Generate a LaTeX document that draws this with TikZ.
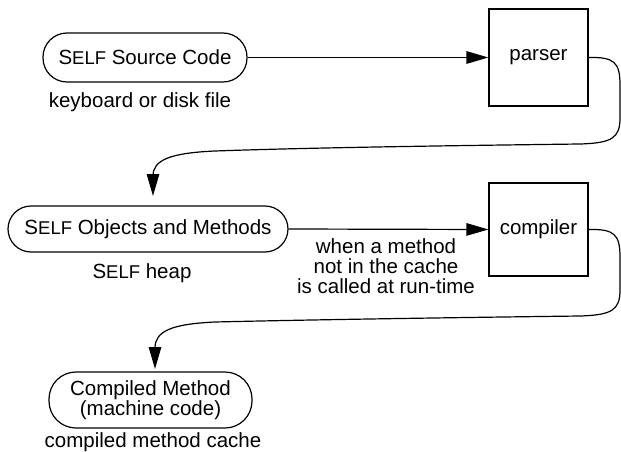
\documentclass[tikz,border=0pt]{standalone}
\usepackage{fontspec}
\setmainfont{Liberation Sans}
\usetikzlibrary{arrows.meta}
\newcommand{\selfname}{S{\fontsize{18.5}{20}\selectfont ELF}}
\tikzset{
  every node/.style={font=\fontsize{20.5}{20}\selectfont, inner sep=0pt},
  stadium/.style={draw, line width=1.2pt, align=center},
  procbox/.style={draw, line width=1.2pt, minimum width=99pt},
  caption/.style={align=center, anchor=base},
  flow/.style={line width=1.2pt, -{Triangle[length=22pt,width=12.5pt]}}
}
\begin{document}
\begin{tikzpicture}[x=1pt,y=-1pt]
\useasboundingbox (0,0) rectangle (621,452);
% nodes
\node[stadium, rounded corners=24pt, minimum width=204pt, minimum height=49pt] (src) at (145,57.5) {\selfname{} Source Code};
\node[caption] (srccap) at (140,107) {keyboard or disk file};
\node[procbox, minimum height=97pt] (parser) at (538.5,57.5) {parser};
\node[stadium, rounded corners=23pt, minimum width=280pt, minimum height=46pt] (obj) at (148,229) {\selfname{} Objects and Methods};
\node[caption] (objcap) at (142,278) {\selfname{} heap};
\node[procbox, minimum height=93pt] (compiler) at (538.5,229.5) {compiler};
% base anchor of a multi-line node is the baseline of its last line
\node[caption] (callcap) at (386,293) {when a method\\not in the cache\\is called at run-time};
\node[stadium, rounded corners=27pt, minimum width=203pt, minimum height=56pt] (cm) at (150.5,400) {Compiled Method\\(machine code)};
\node[caption] (cmcap) at (153,447) {compiled method cache};
% end points of the curved connectors
\coordinate (tip1) at (153,196);
\coordinate (tip2) at (155,369);
% connectors
\draw[flow] (src.east) -- (parser.west);
\draw[flow] (obj.east) -- (compiler.west);
\draw[flow] (parser.east) .. controls (614,57) and (620,62) .. (620,85)
  -- (620,118) .. controls (620,138) and (612,143) .. (580,144)
  .. controls (420,146) and (300,148) .. (215,151)
  .. controls (170,153) and (153,160) .. (153,176) -- (tip1);
\draw[flow] (compiler.east) .. controls (614,229) and (620,234) .. (620,257)
  -- (620,290) .. controls (620,310) and (612,315) .. (580,316)
  .. controls (420,318) and (300,320) .. (215,322)
  .. controls (172,324) and (155,331) .. (155,348) -- (tip2);
\end{tikzpicture}
\end{document}
